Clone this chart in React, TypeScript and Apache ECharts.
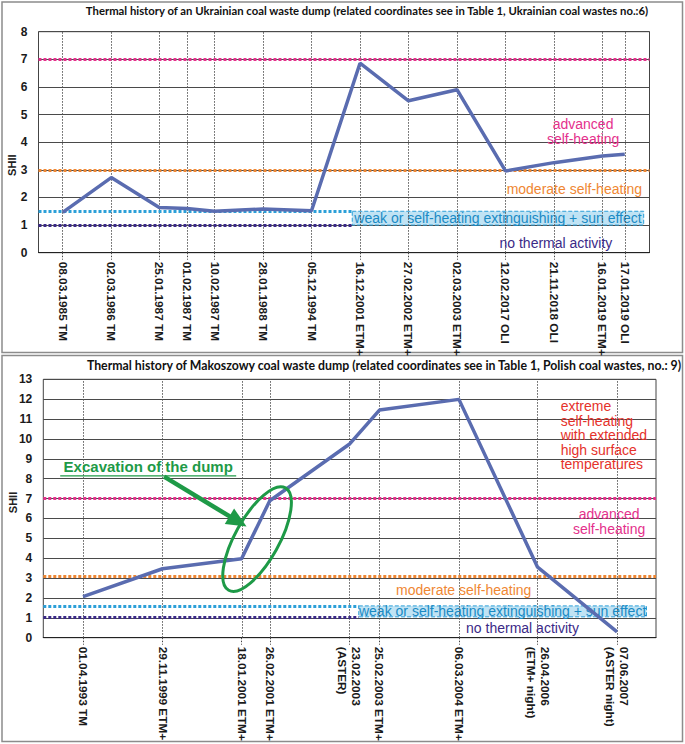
import React, { useEffect, useRef } from 'react';
import * as echarts from 'echarts';

// ---------- Panel 1: Ukrainian coal waste dump ----------
const ukrTitle =
  'Thermal history of an Ukrainian coal waste dump (related coordinates see in Table 1, Ukrainian coal wastes no.:6)';
const ukrDates = [
  '08.03.1985 TM', '02.03.1986 TM', '25.01.1987 TM', '01.02.1987 TM', '10.02.1987 TM',
  '28.01.1988 TM', '05.12.1994 TM', '16.12.2001 ETM+', '27.02.2002 ETM+', '02.03.2003 ETM+',
  '12.02.2017 OLI', '21.11.2018 OLI', '16.01.2019 ETM+', '17.01.2019 OLI',
];
// position of each acquisition along the (unevenly spaced) category axis
const ukrSlots = [0, 1, 1.99, 2.56, 3.13, 4.13, 5.13, 6.13, 7.13, 8.13, 9.13, 10.13, 11.13, 11.59];
const ukrShii = [1.46, 2.72, 1.64, 1.6, 1.5, 1.58, 1.52, 6.86, 5.5, 5.9, 2.96, 3.26, 3.5, 3.56];
const ukrLevels = [7, 3, 1.5, 1.0]; // advanced, moderate, weak, none

// ---------- Panel 2: Makoszowy coal waste dump ----------
const polTitle =
  'Thermal history of Makoszowy coal waste dump (related coordinates see in Table 1, Polish coal wastes, no.: 9)';
const polDates = [
  '01.04.1993 TM', '29.11.1999 ETM+', '18.01.2001 ETM+', '26.02.2001 ETM+', '23.02.2003\n(ASTER)',
  '25.02.2003 ETM+', '06.03.2004 ETM+', '26.04.2006\n(ETM+ night)', '07.06.2007\n(ASTER night)',
];
const polSlots = [0, 1, 1.995, 2.35, 3.35, 3.73, 4.73, 5.72, 6.72];
const polShii = [2.07, 3.47, 3.97, 6.89, 9.73, 11.45, 11.99, 3.55, 0.29];
const polLevels = [7, 3.1, 1.6, 1.05];

const lvlAdvanced = 'advanced\nself-heating';
const lvlModerate = 'moderate self-heating';
const lvlWeak = 'weak or self-heating extinguishing + sun effect';
const lvlNone = 'no thermal activity';
const lvlExtreme = 'extreme\nself-heating\nwith extended\nhigh surface\ntemperatures';
const excavation = 'Excavation of the dump';

const FONT = '"Liberation Sans", Arial, sans-serif';
const TFONT = 'Lato, "Liberation Sans", sans-serif';
const C = {
  line: '#5a6cb0',
  magenta: '#e4318c',
  orange: '#ef8733',
  cyan: '#2b9fd8',
  purple: '#3b2a87',
  red: '#e5322b',
  green: '#1e9a47',
  grid: '#4a4a4a',
  boxFill: '#c0e3f4',
  boxText: '#1a8ac4',
};

const dotted = (color: string) => ({ color, width: 3, type: [3, 2] as any });

type Note = {
  x: number; y: number; kind: 'text' | 'ellipse' | 'under';
  text?: string; color: string; size?: number; bold?: boolean; align?: string; lh?: number;
  rx?: number; ry?: number; rot?: number; w?: number;
};

function notesSeries(idx: number, notes: Note[]) {
  return {
    type: 'custom',
    xAxisIndex: idx,
    yAxisIndex: idx,
    z: 6,
    silent: true,
    clip: false,
    data: notes.map((n) => [n.x, n.y]),
    encode: { x: 0, y: 1 },
    renderItem: (params: any, api: any) => {
      const n = notes[params.dataIndex];
      const p = api.coord([api.value(0), api.value(1)]);
      if (n.kind === 'ellipse') {
        return {
          type: 'ellipse', x: p[0], y: p[1], rotation: n.rot,
          shape: { cx: 0, cy: 0, rx: n.rx, ry: n.ry },
          style: { fill: 'none', stroke: n.color, lineWidth: 3 },
        };
      }
      const txt = {
        type: 'text', x: 0, y: 0,
        style: {
          text: n.text, fill: n.color, fontSize: n.size || 14, fontFamily: FONT,
          fontWeight: n.bold ? 'bold' : 'normal', align: n.align || 'center',
          verticalAlign: 'middle', lineHeight: n.lh || 15,
        },
      };
      const children: any[] = [txt];
      if (n.kind === 'under') {
        children.push({
          type: 'line', shape: { x1: -(n.w || 0) / 2, y1: 9, x2: (n.w || 0) / 2, y2: 9 },
          style: { stroke: n.color, lineWidth: 1.2 },
        });
      }
      return { type: 'group', x: p[0], y: p[1], children };
    },
  };
}

function panel(
  idx: number, slots: number[], dates: string[], values: number[], levels: number[],
  xMax: number, yMax: number, weakEnd: number, nameShift: number, nameGap: number,
) {
  const fmt = (v: number) => {
    const i = slots.findIndex((s) => Math.abs(s - v) < 1e-6);
    return i >= 0 ? dates[i] : '';
  };
  const xAxis = {
    type: 'value', gridIndex: idx, min: -0.5, max: xMax,
    splitLine: { show: false },
    axisLine: { lineStyle: { color: '#222', width: 1 } },
    axisTick: { customValues: slots, length: 7, lineStyle: { color: '#444', type: [1.5, 1.5] } },
    axisLabel: {
      customValues: slots, formatter: fmt, rotate: -90, margin: 9, fontSize: 11.8,
      fontWeight: 'bold', color: '#1a1a1a', fontFamily: FONT, lineHeight: 14,
    },
  };
  const yAxis = {
    type: 'value', gridIndex: idx, min: 0, max: yMax, interval: 1,
    name: 'SHII', nameLocation: 'middle', nameGap, nameMoveOverlap: false,
    nameTextStyle: {
      fontWeight: 'bold', fontSize: 11, color: '#222', fontFamily: FONT,
      padding: nameShift > 0 ? [0, nameShift, 0, 0] : [0, 0, 0, -nameShift],
    },
    axisLine: { show: false }, axisTick: { show: false },
    splitLine: { lineStyle: { color: C.grid, width: 1 } },
    axisLabel: { fontWeight: 'bold', fontSize: 12, color: '#1a1a1a', fontFamily: FONT, margin: 11 },
  };
  const guides = {
    type: 'line', xAxisIndex: idx, yAxisIndex: idx, data: [], z: 2, silent: true,
    markLine: {
      silent: true, symbol: 'none', label: { show: false },
      data: [
        ...slots.map((s) => ({ xAxis: s, lineStyle: { color: '#555', width: 1, type: [1.5, 1.5] } })),
        { yAxis: levels[0], lineStyle: dotted(C.magenta) },
        { yAxis: levels[1], lineStyle: dotted(C.orange) },
        [{ coord: [-0.5, levels[2]], lineStyle: dotted(C.cyan) }, { coord: [weakEnd, levels[2]] }],
        [{ coord: [-0.5, levels[3]], lineStyle: dotted(C.purple) }, { coord: [weakEnd, levels[3]] }],
      ],
    },
    markArea: {
      silent: true,
      data: [[
        {
          coord: [weakEnd, levels[2]],
          itemStyle: { color: C.boxFill, borderColor: C.cyan, borderWidth: 1, borderType: 'dashed' },
          label: {
            show: true, position: 'inside', formatter: lvlWeak, color: C.boxText,
            fontSize: 14, fontFamily: FONT,
          },
        },
        { coord: [xMax - 0.12, levels[3]] },
      ]],
    },
  };
  const line = {
    type: 'line', xAxisIndex: idx, yAxisIndex: idx, z: 5, symbol: 'none', silent: true,
    data: slots.map((s, i) => [s, values[i]]),
    lineStyle: { width: 3.5, color: C.line },
  };
  return { xAxis, yAxis, series: [guides, line] };
}

export default function App() {
  const ref = useRef<HTMLDivElement>(null);
  useEffect(() => {
    if (!ref.current) return;
    const chart = echarts.init(ref.current, undefined, { renderer: 'svg' });
    const p1 = panel(0, ukrSlots, ukrDates, ukrShii, ukrLevels, 12.1, 8, 5.97, 46, 21);
    const p2 = panel(1, polSlots, polDates, polShii, polLevels, 7.21, 13, 3.47, -12, 25);

    const ukrNotes: Note[] = [
      { kind: 'text', x: 10.73, y: 4.4, text: lvlAdvanced, color: C.magenta },
      { kind: 'text', x: 10.55, y: 2.32, text: lvlModerate, color: C.orange },
      { kind: 'text', x: 10.17, y: 0.34, text: lvlNone, color: C.purple },
    ];
    const polNotes: Note[] = [
      { kind: 'text', x: 6.01, y: 10.18, text: lvlExtreme, color: C.red, align: 'left', lh: 14.5 },
      { kind: 'text', x: 6.62, y: 5.83, text: lvlAdvanced, color: C.magenta },
      { kind: 'text', x: 4.79, y: 2.4, text: lvlModerate, color: C.orange },
      { kind: 'text', x: 5.53, y: 0.5, text: lvlNone, color: C.purple },
      { kind: 'under', x: 0.82, y: 8.59, text: excavation, color: C.green, size: 15, bold: true, w: 176 },
      { kind: 'ellipse', x: 2.19, y: 4.96, color: C.green, rx: 22, ry: 58.5, rot: (-29 * Math.PI) / 180 },
    ];

    const arrow = {
      type: 'line', xAxisIndex: 1, yAxisIndex: 1, data: [], z: 7, silent: true,
      markLine: {
        silent: true, label: { show: false },
        symbol: ['none', 'triangle'], symbolSize: [18, 20],
        lineStyle: { color: C.green, width: 4.5, type: 'solid' },
        data: [[{ coord: [1.02, 8.1] }, { coord: [1.95, 5.85] }]],
      },
    };

    chart.setOption({
      animation: false,
      backgroundColor: '#ffffff',
      graphic: [
        { type: 'rect', shape: { x: 2, y: 2, width: 680.5, height: 350.5 }, style: { fill: 'none', stroke: '#8c8c8c', lineWidth: 1.5 } },
        { type: 'rect', shape: { x: 2, y: 355.5, width: 680.5, height: 386 }, style: { fill: 'none', stroke: '#8c8c8c', lineWidth: 1.5 } },
        { type: 'text', x: 367, y: 10.5, style: { text: ukrTitle, fontFamily: TFONT, fontWeight: 'bold', fontSize: 11.3, fill: '#111', align: 'center', verticalAlign: 'middle' } },
        { type: 'text', x: 384, y: 365.5, style: { text: polTitle, fontFamily: TFONT, fontWeight: 'bold', fontSize: 12.3, fill: '#111', align: 'center', verticalAlign: 'middle' } },
      ],
      grid: [
        { left: 38.5, top: 31.7, width: 611, height: 221, show: true, borderColor: '#444', borderWidth: 1, backgroundColor: '#fff', containLabel: false, outerBoundsMode: 'none' },
        { left: 43.3, top: 379.3, width: 612.7, height: 258.4, show: true, borderColor: '#444', borderWidth: 1, backgroundColor: '#fff', containLabel: false, outerBoundsMode: 'none' },
      ],
      xAxis: [p1.xAxis, p2.xAxis],
      yAxis: [p1.yAxis, p2.yAxis],
      series: [...p1.series, ...p2.series, notesSeries(0, ukrNotes), notesSeries(1, polNotes), arrow],
    } as any);
    return () => chart.dispose();
  }, []);
  return (
    <div
      ref={ref}
      style={{ position: 'absolute', left: 0, top: 0, width: 685, height: 744, background: '#fff' }}
    />
  );
}
